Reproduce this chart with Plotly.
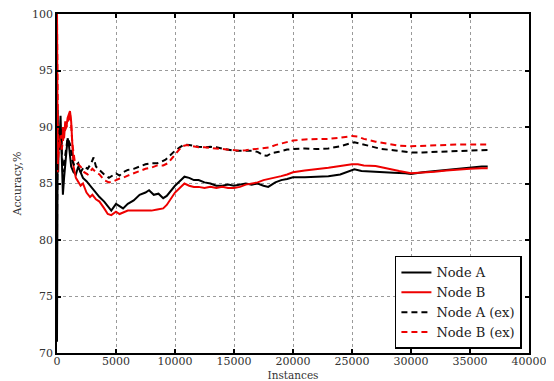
import plotly.graph_objects as go

# Node A (solid black)
a_x = [0, 30, 60, 100, 150, 200, 300, 400, 500, 600, 700, 800, 900, 1000, 1100, 1200, 1400, 1600, 1800, 2000,
       2200, 2500, 2800, 3000, 3300, 3600, 4000, 4300, 4600, 5000, 5300, 5600, 6000, 6500, 7000, 7500, 7800,
       8200, 8600, 9000, 9300, 9600, 10000, 10400, 10800, 11200, 11600, 12000, 12500, 13000, 13500, 14000,
       14500, 15000, 15500, 16000, 16500, 17000, 17500, 17900, 18500, 19000, 19500, 20000, 21000, 22000,
       23000, 24000, 24600, 25200, 25800, 26500, 27500, 28500, 29500, 30000, 31000, 32000, 33000, 34000,
       35000, 36000, 36500]
a_y = [71, 80, 91.5, 86, 90, 88, 91, 87, 84, 85.5, 86.5, 88, 89, 88.5, 87.5, 86.5, 86, 85.8, 86.5, 86,
       85.5, 85.2, 84.8, 84.5, 84.2, 83.8, 83.4, 83, 82.6, 83.2, 83, 82.8, 83.2, 83.5, 84.0, 84.2, 84.4,
       84.0, 84.1, 83.7, 83.9, 84.3, 84.8, 85.2, 85.6, 85.5, 85.3, 85.3, 85.1, 85.0, 84.8, 84.8,
       84.9, 84.8, 84.9, 85.0, 84.9, 85.0, 84.8, 84.7, 85.1, 85.3, 85.4, 85.55, 85.55, 85.6,
       85.65, 85.8, 86.0, 86.25, 86.1, 86.05, 86.0, 85.95, 85.9, 85.85, 86.0, 86.1, 86.25, 86.35,
       86.45, 86.5, 86.5]

# Node B (solid red)
b_x = [0, 30, 60, 100, 150, 200, 300, 400, 500, 600, 700, 800, 900, 1000, 1100, 1200, 1300, 1400, 1600, 1800,
       2000, 2200, 2500, 2800, 3000, 3300, 3600, 4000, 4300, 4600, 5000, 5300, 5600, 6000, 6500, 7000, 7500,
       8000, 8500, 9000, 9300, 9600, 10000, 10400, 10800, 11200, 11600, 12000, 12500, 13000, 13500, 14000,
       14500, 15000, 15500, 16000, 16500, 17000, 17500, 18000, 18500, 19000, 19500, 20000, 21000, 22000,
       23000, 24000, 25000, 25500, 26000, 27000, 28000, 29000, 30000, 31000, 32000, 33000, 34000, 35000,
       36000, 36500]
b_y = [100, 92, 86, 88, 89, 88, 89.5, 88.5, 90, 89, 90.5, 90, 90.8, 91.2, 91.4, 90.5, 88, 86.5, 85.5, 85.2,
       84.8, 85.0, 84.2, 83.8, 84.0, 83.6, 83.4, 82.8, 82.3, 82.2, 82.5, 82.3, 82.4, 82.6, 82.6, 82.6, 82.55,
       82.6, 82.7, 82.8, 83.1, 83.6, 84.2, 84.6, 85.0, 84.8, 84.7, 84.7, 84.6, 84.7, 84.6, 84.7,
       84.6, 84.6, 84.7, 84.9, 85.0, 85.1, 85.3, 85.4, 85.5, 85.65, 85.8, 86.0, 86.15, 86.25,
       86.4, 86.55, 86.7, 86.7, 86.6, 86.55, 86.3, 86.1, 85.9, 85.95, 86.05, 86.15, 86.25, 86.3,
       86.35, 86.35]

# Node A (ex) (dashed black)
ae_x = [0, 60, 150, 300, 500, 700, 900, 1100, 1300, 1500, 1800, 2000, 2300, 2600, 2900, 3100, 3300, 3600,
        4000, 4400, 4800, 5000, 5300, 5600, 6000, 6500, 7000, 7500, 8000, 8500, 8800, 9200, 9600, 10000,
        10400, 10800, 11200, 11600, 12000, 12500, 13000, 13500, 14000, 14500, 15000, 15500, 16000, 16500,
        17000, 17500, 17800, 18200, 18800, 19500, 20000, 21000, 22000, 23000, 24000, 24600, 25200, 25800,
        26500, 27500, 28500, 29500, 30000, 31000, 32000, 33000, 34000, 35000, 36000, 36500]
ae_y = [80, 90, 88, 90, 86, 87.5, 89, 88.5, 87, 86.5, 86.8, 86, 86.5, 86.3, 86.8, 87.3, 86.5, 86.2,
        85.8, 85.5, 85.8, 85.9, 85.7, 86.0, 86.2, 86.3, 86.5, 86.7, 86.8, 86.8, 86.9, 87.1, 87.5, 87.9,
        88.2, 88.45, 88.4, 88.3, 88.25, 88.2, 88.25, 88.2, 88.1, 88.0, 87.9, 87.9, 87.9, 87.9,
        87.8, 87.5, 87.45, 87.7, 87.8, 88.0, 88.05, 88.1, 88.05, 88.1, 88.3, 88.5, 88.65, 88.5,
        88.3, 88.05, 87.95, 87.8, 87.75, 87.75, 87.8, 87.8, 87.85, 87.9, 87.95, 87.97]

# Node B (ex) (dashed red)
be_x = [0, 40, 100, 200, 400, 600, 800, 1000, 1100, 1200, 1300, 1500, 1700, 2000, 2300, 2600, 3000, 3300,
        3600, 4000, 4400, 4800, 5200, 5600, 6000, 6500, 7000, 7500, 8000, 8500, 9000, 9400, 9800, 10200,
        10600, 11000, 11500, 12000, 12500, 13000, 13500, 14000, 14500, 15000, 15500, 16000, 16500, 17000,
        17500, 18000, 18500, 19000, 19500, 20000, 21000, 22000, 23000, 24000, 25000, 25500, 26000, 27000,
        28000, 29000, 30000, 31000, 32000, 33000, 34000, 35000, 36000, 36500]
be_y = [100, 90, 87, 89, 88, 89.5, 90, 90.8, 91.2, 90.2, 88.5, 87, 86.8, 86.5, 86, 85.8, 86.3, 86.0,
        85.8, 85.3, 85.1, 85.2, 85.4, 85.5, 85.7, 85.9, 86.1, 86.3, 86.4, 86.6, 86.6, 86.8, 87.3, 87.8,
        88.3, 88.4, 88.3, 88.2, 88.2, 88.15, 88.1, 88.05, 88.0, 87.95, 87.9, 87.95, 88.0, 88.05,
        88.1, 88.2, 88.4, 88.55, 88.7, 88.8, 88.9, 88.9, 88.95, 89.05, 89.2, 89.15, 88.95, 88.7,
        88.5, 88.35, 88.3, 88.35, 88.4, 88.45, 88.45, 88.45, 88.45, 88.45]

x_ticks = [0, 5000, 10000, 15000, 20000, 25000, 30000, 35000, 40000]
y_ticks = [70, 75, 80, 85, 90, 95, 100]

FONT = "DejaVu Serif"
fig = go.Figure()
fig.add_trace(go.Scatter(x=a_x, y=a_y, mode="lines", name="Node A",
                         line=dict(color="black", width=2)))
fig.add_trace(go.Scatter(x=b_x, y=b_y, mode="lines", name="Node B",
                         line=dict(color="#ee0000", width=2)))
fig.add_trace(go.Scatter(x=ae_x, y=ae_y, mode="lines", name="Node A (ex)",
                         line=dict(color="black", width=2, dash="6px,4px")))
fig.add_trace(go.Scatter(x=be_x, y=be_y, mode="lines", name="Node B (ex)",
                         line=dict(color="#ee0000", width=2, dash="6px,4px")))

axis_common = dict(
    showline=True, linecolor="black", linewidth=1.5, mirror="ticks",
    ticks="inside", ticklen=4, tickwidth=1.5, tickcolor="black",
    showgrid=True, gridcolor="#9a9a9a", gridwidth=1, griddash="dot",
    zeroline=False, automargin=False, ticklabeloverflow="allow",
    tickfont=dict(family=FONT, size=11, color="#333"),
)
fig.update_xaxes(range=[0, 40000], tickvals=x_ticks, ticktext=[str(v) for v in x_ticks],
                 ticklabelstandoff=-3,
                 title=dict(text="Instances", font=dict(family=FONT, size=10.5, color="#333"), standoff=8),
                 **axis_common)
fig.update_yaxes(range=[70, 100], tickvals=y_ticks, ticktext=[str(v) for v in y_ticks],
                 title=dict(text="Accuracy,%", font=dict(family=FONT, size=11, color="#333"), standoff=8),
                 **axis_common)
# page body has an 8px margin, so the figure is 8px smaller and margins are shifted
fig.update_layout(
    width=546, height=373,
    margin=dict(l=49, r=25, t=6, b=28),
    paper_bgcolor="white", plot_bgcolor="white",
    showlegend=True,
    legend=dict(x=0.985, y=0.012, xanchor="right", yanchor="bottom",
                bgcolor="white", bordercolor="black", borderwidth=1.5,
                font=dict(family=FONT, size=13, color="#222"),
                tracegroupgap=0),
)
fig.write_html("out.html")
